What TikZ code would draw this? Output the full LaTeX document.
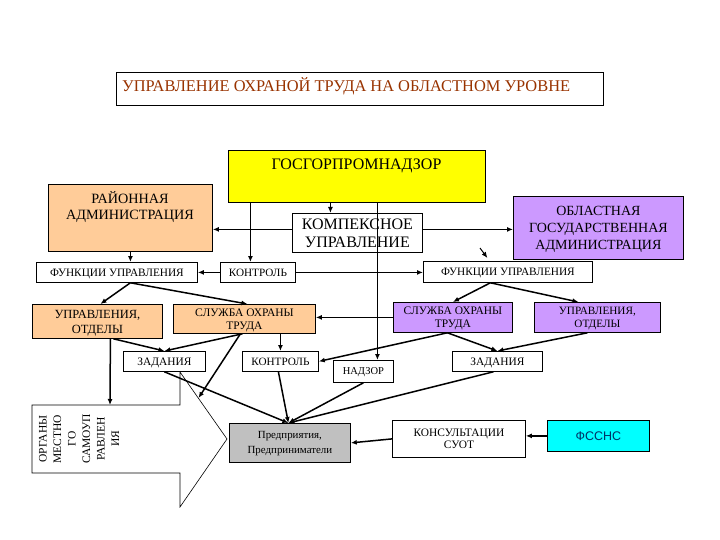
\documentclass[tikz,border=0pt]{standalone}
\usepackage{fontspec}
\setmainfont{Liberation Serif}
\newfontfamily\arialfont{Liberation Sans}
\usetikzlibrary{arrows.meta,calc}
\definecolor{peach}{HTML}{FFCC99}
\definecolor{lav}{HTML}{CC99FF}
\definecolor{titlered}{HTML}{993300}
\definecolor{fsblue}{HTML}{003366}
\definecolor{grayfill}{HTML}{C0C0C0}
\definecolor{gosyellow}{HTML}{FFFF00}
\definecolor{fscyan}{HTML}{00FFFF}
\begin{document}
\begin{tikzpicture}[x=1pt,y=-1pt,
  box/.style={draw=black, line width=0.8pt, inner sep=0pt, anchor=north west, align=center, fill=white, text depth=0pt},
  wh/.style 2 args={minimum width=#1pt, minimum height=#2pt},
  fs/.style 2 args={font=\fontsize{#1}{#2}\selectfont},
  conn/.style={line width=1.5pt, -{Latex[length=6pt,width=5pt]}},
  txt/.style={inner sep=0pt, align=center}]
\useasboundingbox (0,0) rectangle (720,540);

% title
\node[box, wh={487}{33}] (title) at (116,72) {};
\node[txt, anchor=base west, fs={16.4}{18}, text=titlered] (titletext) at (122,92) {УПРАВЛЕНИЕ ОХРАНОЙ ТРУДА НА ОБЛАСТНОМ УРОВНЕ};

% top level
\node[box, fill=gosyellow, wh={257}{52}] (gos) at (228,150) {};
\node[txt, fs={16}{18}] (gostext) at (356.5,166) {ГОСГОРПРОМНАДЗОР};
\node[box, fill=peach, wh={164}{67}] (rayon) at (48,184) {};
\node[txt, fs={14.2}{16}] (rayontext) at (130,207) {РАЙОННАЯ\\АДМИНИСТРАЦИЯ};
\node[box, wh={130}{39}, fs={16}{18}] (komp) at (292,213) {КОМПЕКСНОЕ\\УПРАВЛЕНИЕ};
\node[box, fill=lav, wh={170}{63}, fs={14}{17}] (obl) at (513,196) {ОБЛАСТНАЯ\\ГОСУДАРСТВЕННАЯ\\АДМИНИСТРАЦИЯ};

% second row
\node[box, wh={161}{20}, fs={11.3}{12}] (funcL) at (36,262) {ФУНКЦИИ УПРАВЛЕНИЯ};
\node[box, wh={75}{20}, fs={11.2}{12}] (kontr1) at (220,262) {КОНТРОЛЬ};
\node[box, wh={169}{21}, fs={11.3}{12}] (funcR) at (423,261) {ФУНКЦИИ УПРАВЛЕНИЯ};

% third row
\node[box, fill=peach, wh={130}{34}, fs={12.5}{15}] (uprL) at (32,304) {УПРАВЛЕНИЯ,\\ОТДЕЛЫ};
\node[box, fill=peach, wh={142}{29}, fs={11.5}{13}] (sluzhL) at (173,304) {СЛУЖБА ОХРАНЫ\\ТРУДА};
\node[box, fill=lav, wh={119}{30}, fs={11.5}{12.5}] (sluzhR) at (393,302) {СЛУЖБА ОХРАНЫ\\ТРУДА};
\node[box, fill=lav, wh={126}{30}, fs={11.2}{12.5}] (uprR) at (534,302) {УПРАВЛЕНИЯ,\\ОТДЕЛЫ};

% fourth row
\node[box, wh={82}{20}, fs={11.4}{12}] (zadL) at (123,351) {ЗАДАНИЯ};
\node[box, wh={76}{20}, fs={11.2}{12}] (kontr2) at (242,351) {КОНТРОЛЬ};
\node[box, wh={60}{22}, fs={10.5}{12}] (nadzor) at (333,360) {НАДЗОР};
\node[box, wh={90}{20}, fs={11.4}{12}] (zadR) at (452,351) {ЗАДАНИЯ};

% bottom row
\node[box, fill=grayfill, wh={121}{39}, fs={10.9}{15}] (pred) at (229,423) {Предприятия,\\Предприниматели};
\node[box, wh={133}{37}, fs={11.4}{12.5}] (kons) at (392,420) {КОНСУЛЬТАЦИИ\\СУОТ};
\node[box, fill=fscyan, wh={102}{31}, font=\arialfont\fontsize{12.5}{14}\selectfont, text=fsblue] (fssns) at (547,420) {ФССНС};

% big arrow
\draw[line width=0.6pt, fill=white] (32,405) -- (180,405) -- (180,372) -- (227,439) -- (180,507) -- (180,473) -- (32,473) -- cycle;
\node[txt, rotate=90, fs={11.5}{14.5}] (organy) at (79,439) {ОРГАНЫ\\МЕСТНО\\ГО\\САМОУП\\РАВЛЕН\\ИЯ};

\coordinate (arrowtop) at (110,405);
\coordinate (arrowedge) at (198.5,398);
\coordinate (smallarrow) at (480,248);

% connectors
\draw[conn] ([xshift=-26.5pt]gos.south) -- ([xshift=-26.5pt]gos.south |- komp.north);
\draw[conn] ([xshift=-7.5pt]kontr1.north |- gos.south) -- ([xshift=-7.5pt]kontr1.north);
\draw[conn] ([xshift=14pt]nadzor.north |- gos.south) -- ([xshift=14pt]nadzor.north);
\draw[conn] ([yshift=3.5pt]komp.west) -- ([yshift=3.5pt]komp.west -| rayon.east);
\draw[conn] ([yshift=3.5pt]komp.east) -- ([yshift=3.5pt]komp.east -| obl.west);
\draw[conn] (rayon.south) -- (rayon.south |- funcL.north);
\draw[conn] (kontr1.west) -- (funcL.east);
\draw[conn] (kontr1.east) -- (kontr1.east -| funcR.west);
\draw[conn, line width=1pt] (smallarrow) -- ([xshift=-20.5pt, yshift=3pt]funcR.north);
\draw[conn] ([xshift=13.5pt]funcL.south) -- ([xshift=3pt]uprL.north);
\draw[conn] ([xshift=13.5pt]funcL.south) -- ([xshift=3pt]sluzhL.north);
\draw[conn] ([xshift=-17.5pt]funcR.south) -- (sluzhR.north);
\draw[conn] ([xshift=-17.5pt]funcR.south) -- ([xshift=-19pt]uprR.north);
\draw[conn] (sluzhR.west) -- (sluzhR.west -| sluzhL.east);
\draw[conn] ([xshift=16pt]uprL.south) -- (zadL.north);
\draw[conn] ([xshift=-2pt]sluzhL.south) -- (zadL.north);
\draw[conn] ([xshift=-4pt]sluzhL.south) -- (arrowedge);
\draw[conn] ([xshift=13pt]uprL.south) -- (arrowtop);
\draw[conn] (kontr2.north |- sluzhL.south) -- (kontr2.north);
\draw[conn] ([xshift=-5.5pt]sluzhR.south) -- (kontr2.east);
\draw[conn] ([xshift=-5.5pt]sluzhR.south) -- (zadR.north);
\draw[conn] ([xshift=-10pt]uprR.south) -- (zadR.north);
\draw[conn] (zadL.south) -- ([xshift=-1.5pt]pred.north);
\draw[conn] ([xshift=-2pt]kontr2.south) -- ([xshift=-1.5pt]pred.north);
\draw[conn] (nadzor.south) -- ([xshift=-1.5pt]pred.north);
\draw[conn] ([xshift=-4pt]zadR.south) -- ([xshift=-1.5pt]pred.north);
\draw[conn] (kons.west) -- (pred.east);
\draw[conn] (fssns.west) -- (fssns.west -| kons.east);
\end{tikzpicture}
\end{document}
